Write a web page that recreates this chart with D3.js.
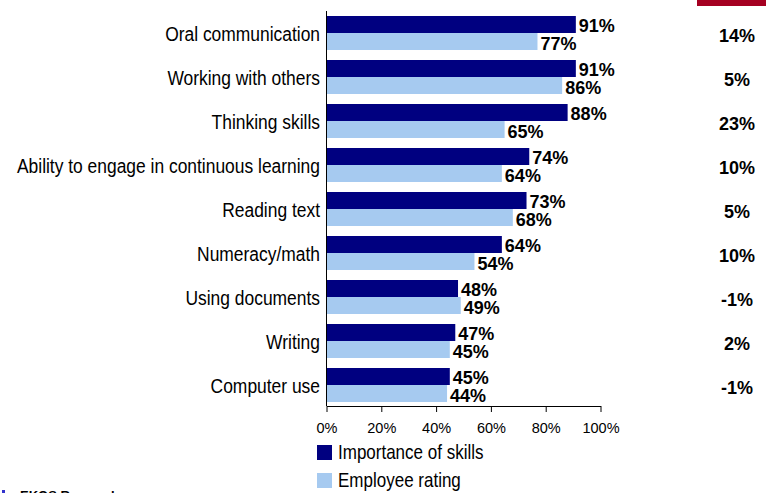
<!DOCTYPE html>
<html>
<head>
<meta charset="utf-8">
<script src="https://cdn.jsdelivr.net/npm/d3@7"></script>
<style>
  html, body { margin: 0; padding: 0; background: #fff; }
  svg { display: block; }
</style>
</head>
<body>
<svg id="chart" width="766" height="493"></svg>
<script>
// Skills: importance to employers vs. how employees are rated
const categories = [
  "Oral communication",
  "Working with others",
  "Thinking skills",
  "Ability to engage in continuous learning",
  "Reading text",
  "Numeracy/math",
  "Using documents",
  "Writing",
  "Computer use"
];
const importance = [91, 91, 88, 74, 73, 64, 48, 47, 45];
const employeeRating = [77, 86, 65, 64, 68, 54, 49, 45, 44];
const gaps = ["14%", "5%", "23%", "10%", "5%", "10%", "-1%", "2%", "-1%"];
const seriesNames = ["Importance of skills", "Employee rating"];
const xTicks = [0, 20, 40, 60, 80, 100];

const colors = { "Importance of skills": "#000080", "Employee rating": "#A6CAF0" };
const font = "'Liberation Sans', Arial, sans-serif";
const narrow = 0.83;   // horizontal squeeze for narrow-style labels

const svg = d3.select("#chart");

const x = d3.scaleLinear().domain([0, 100]).range([326.5, 600.5]);
const y = d3.scaleBand().domain(categories).range([11, 407])
  .paddingInner(10 / 44).paddingOuter(5 / 44);
const ySub = d3.scaleBand().domain(seriesNames).range([0, y.bandwidth()]);

const rows = categories.map((c, i) => ({
  category: c,
  values: [
    { series: seriesNames[0], value: importance[i] },
    { series: seriesNames[1], value: employeeRating[i] }
  ],
  gap: gaps[i]
}));

// accent strip in the top-right corner
svg.append("rect").attr("x", 697).attr("y", 0).attr("width", 69).attr("height", 6)
  .attr("fill", "#A50021");

const groups = svg.append("g").selectAll("g").data(rows).join("g")
  .attr("transform", d => `translate(0,${y(d.category)})`);

groups.selectAll("rect").data(d => d.values).join("rect")
  .attr("x", x(0))
  .attr("y", d => ySub(d.series))
  .attr("width", d => x(d.value) - x(0))
  .attr("height", ySub.bandwidth())
  .attr("fill", d => colors[d.series]);

groups.selectAll("text.val").data(d => d.values).join("text")
  .attr("class", "val")
  .attr("x", d => x(d.value) + 3)
  .attr("y", (d, i) => ySub(d.series) + ySub.bandwidth() - (i === 0 ? 1 : 0))
  .attr("font-family", font)
  .attr("font-weight", "bold")
  .attr("font-size", 18)
  .attr("fill", "#000")
  .text(d => d.value + "%");

// category labels
groups.append("text")
  .attr("transform", d => `translate(320,${y.bandwidth() / 2 + 7.5}) scale(${narrow},1)`)
  .attr("text-anchor", "end")
  .attr("font-family", font)
  .attr("font-size", 21)
  .attr("fill", "#000")
  .text(d => d.category);

// gap column
groups.append("text")
  .attr("x", 737)
  .attr("y", y.bandwidth() / 2 + 8.5)
  .attr("text-anchor", "middle")
  .attr("font-family", font)
  .attr("font-weight", "bold")
  .attr("font-size", 18)
  .attr("fill", "#000")
  .text(d => d.gap);

// vertical category axis line
svg.append("line")
  .attr("x1", x(0)).attr("x2", x(0))
  .attr("y1", 11).attr("y2", 406)
  .attr("stroke", "#000").attr("stroke-width", 1);

// value axis
const xAxis = d3.axisBottom(x).tickValues(xTicks).tickFormat(d => d + "%")
  .tickSize(6).tickSizeOuter(0);
const gx = svg.append("g").attr("transform", "translate(0,406)").call(xAxis);
gx.select(".domain").attr("stroke", "#000");
gx.selectAll(".tick line").attr("stroke", "#000");
gx.selectAll(".tick text")
  .attr("font-family", font).attr("font-size", 14.5).attr("fill", "#000")
  .attr("dy", 0).attr("y", 27);

// legend
const legend = svg.append("g").selectAll("g").data(seriesNames).join("g")
  .attr("transform", (d, i) => `translate(317,${445 + i * 28})`);
legend.append("rect").attr("width", 15).attr("height", 15).attr("fill", d => colors[d]);
legend.append("text")
  .attr("transform", `translate(21,13.5) scale(${narrow - 0.02},1)`)
  .attr("font-family", font).attr("font-size", 21).attr("fill", "#000")
  .text(d => d);

// source note at the bottom edge
svg.append("rect").attr("x", 2).attr("y", 490).attr("width", 3).attr("height", 3).attr("fill", "#3333cc");
svg.append("text").attr("x", 20).attr("y", 500)
  .attr("font-family", font).attr("font-weight", "bold").attr("font-size", 13)
  .attr("fill", "#000").text("EKOS Research");
</script>
</body>
</html>
